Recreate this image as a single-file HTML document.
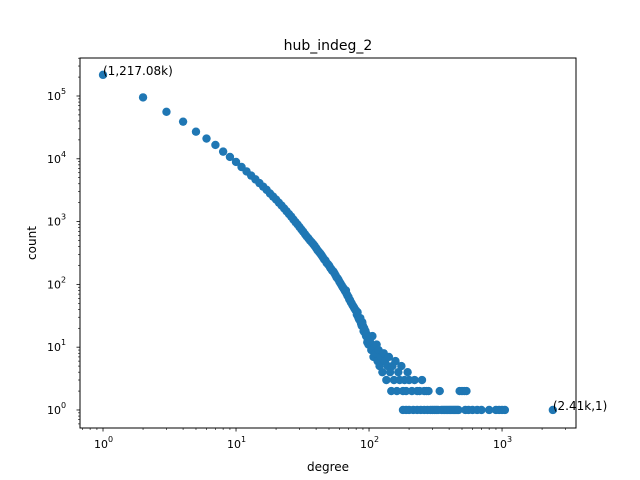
<!DOCTYPE html>
<html><head><meta charset="utf-8"><style>
body{margin:0;background:#fff;}
svg{display:block;font-family:"DejaVu Sans","Liberation Sans",sans-serif;}
</style></head><body>
<svg id="chart" width="640" height="480" viewBox="0 0 640 480"></svg>
<script>
const degrees = [
1,2,3,4,5,6,7,8,9,10,
11,12,13,14,15,16,17,18,19,20,
21,22,23,24,25,26,27,28,29,30,
31,32,33,34,35,36,37,38,39,40,
41,42,43,44,45,46,47,48,49,50,
51,52,53,54,55,56,57,58,59,60,
61,62,63,64,65,66,67,68,69,70,
71,72,73,74,75,76,77,78,79,80,
81,82,83,84,85,86,87,88,89,90,
91,92,93,94,95,96,97,98,99,100,
102,104,106,108,110,112,114,116,118,120,
123,126,129,132,135,138,141,144,147,150,
154,158,162,166,170,175,180,185,190,195,
200,210,220,230,240,250,260,270,280,300,
320,340,360,380,400,420,440,460,480,500,
520,540,180,190,200,215,230,245,260,275,
290,310,330,350,370,390,410,430,450,470,
530,560,600,650,700,800,900,950,1000,1050,
2410];
const counts = [
217080,95000,56000,39000,27000,21000,16600,13000,10700,8900,
7400,6300,5400,4700,4100,3600,3200,2800,2500,2240,
2000,1800,1620,1460,1320,1200,1080,980,900,820,
750,690,630,580,540,500,470,440,410,380,
350,330,310,290,270,250,240,220,210,200,
185,175,165,160,150,140,130,125,118,110,
104,98,92,88,83,78,80,70,66,63,
58,56,52,50,47,45,43,41,39,38,
33,36,30,28,27,29,24,22,25,22,
18,20,17,18,15,16,12,14,11,13,
12,9,15,7,10,8,11,6,9,5,
7,4,8,6,3,5,7,4,2,5,
3,6,2,4,3,5,2,3,2,4,
3,2,3,2,2,3,2,2,2,1,
1,2,1,1,1,1,1,1,2,2,
2,2,1,1,1,1,1,1,1,1,
1,1,1,1,1,1,1,1,1,1,
1,1,1,1,1,1,1,1,1,1,
1];
const xTickVals = [0,1,2,3];
const yTickVals = [0,1,2,3,4,5];

const NS='http://www.w3.org/2000/svg';
const svg=document.getElementById('chart');
const L=80,R=576,T=58,B=428;
const xMin=-0.173,xMax=3.556,yMin=-0.287,yMax=5.605;
function xs(v){return L+(Math.log10(v)-xMin)/(xMax-xMin)*(R-L);}
function ys(v){return B-(Math.log10(v)-yMin)/(yMax-yMin)*(B-T);}
function mk(tag,attrs,parent){const e=document.createElementNS(NS,tag);for(const k in attrs)e.setAttribute(k,attrs[k]);(parent||svg).appendChild(e);return e;}

const title=mk('text',{x:328,y:50,'text-anchor':'middle','font-size':'14'});


title.textContent='hub_indeg_2';

const pts=mk('g',{});


const nPts=Math.min(degrees.length,counts.length);
for(let i=0;i<nPts;i++){
  const c=mk('circle',{cx:xs(degrees[i]),cy:ys(counts[i]),r:4.2,fill:'#1f77b4'},pts);
  
  
}

const frame=mk('rect',{x:L,y:T,width:R-L,height:B-T,fill:'none',stroke:'#000','stroke-width':1});



const xt=mk('g',{});


for(let d=-1;d<=3;d++){for(let m=1;m<10;m++){const v=m*Math.pow(10,d);const lv=Math.log10(v);if(lv<xMin||lv>xMax)continue;const x=xs(v);mk('line',{x1:x,x2:x,y1:B,y2:B+(m===1?3.5:2),stroke:'#000','stroke-width':m===1?0.8:0.6},xt);}}
xTickVals.forEach(p=>{const x=xs(Math.pow(10,p));const t=mk('text',{x:x-9,y:B+20,'font-size':'11'},xt);t.textContent='10';const s=mk('tspan',{dy:-6,'font-size':'8'},t);s.textContent=p;});

const yt=mk('g',{});


for(let d=-1;d<=5;d++){for(let m=1;m<10;m++){const v=m*Math.pow(10,d);const lv=Math.log10(v);if(lv<yMin||lv>yMax)continue;const y=ys(v);mk('line',{x1:L,x2:L-(m===1?3.5:2),y1:y,y2:y,stroke:'#000','stroke-width':m===1?0.8:0.6},yt);}}
yTickVals.forEach(p=>{const y=ys(Math.pow(10,p));const t=mk('text',{x:L-33,y:y+4,'font-size':'11'},yt);t.textContent='10';const s=mk('tspan',{dy:-6,'font-size':'8'},t);s.textContent=p;});

const xl=mk('text',{x:328,y:471,'text-anchor':'middle','font-size':'12'});


xl.textContent='degree';
const yl=mk('text',{x:36,y:243,'text-anchor':'middle','font-size':'12',transform:'rotate(-90 36 243)'});


yl.textContent='count';

const a1=mk('text',{x:xs(degrees[0]),y:ys(counts[0]),'font-size':'12'});


a1.textContent='(1,217.08k)';
const n=nPts-1;
const a2=mk('text',{x:xs(degrees[n]),y:ys(counts[n]),'font-size':'12'});


a2.textContent='(2.41k,1)';
</script>
</body></html>
